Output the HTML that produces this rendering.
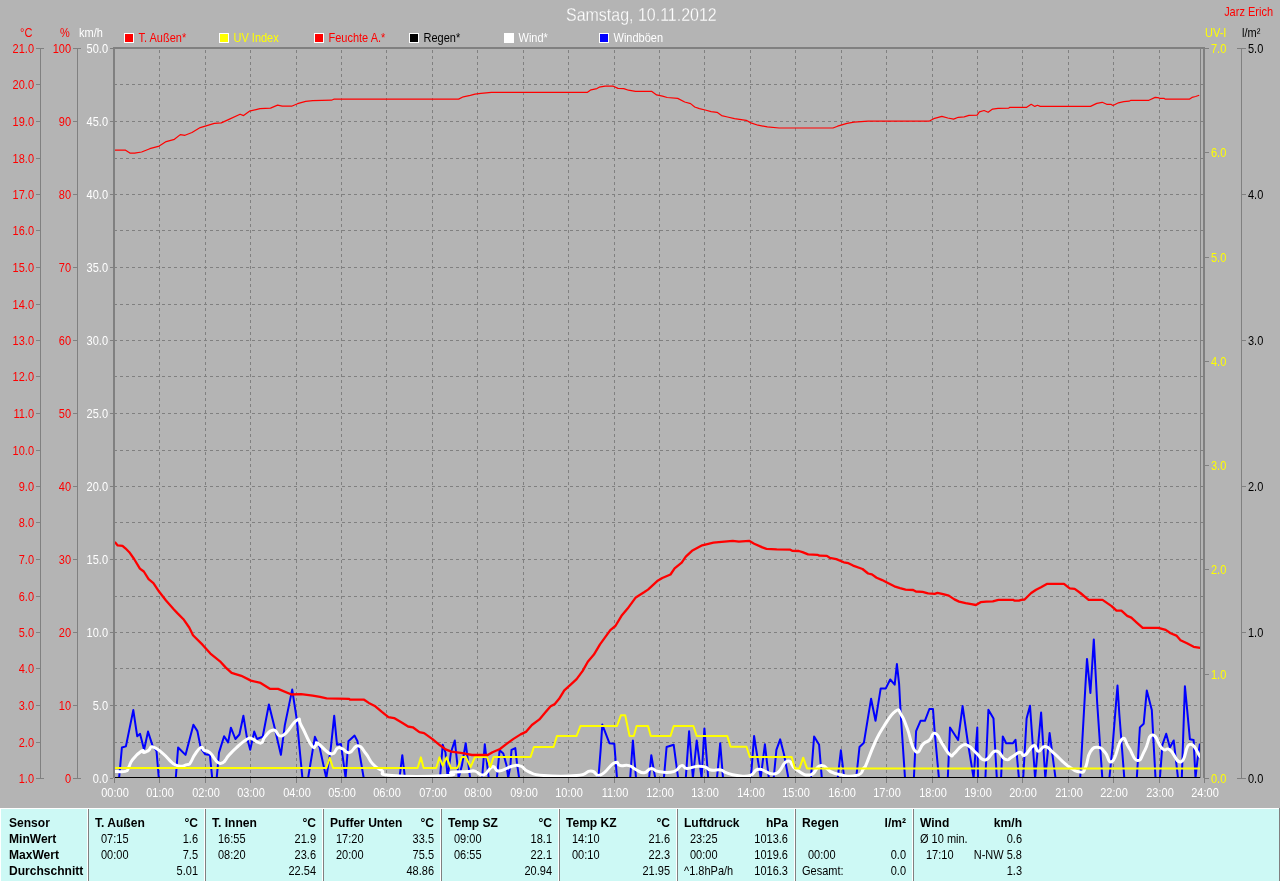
<!DOCTYPE html><html><head><meta charset="utf-8"><title>Samstag, 10.11.2012</title><style>
html,body{margin:0;padding:0;background:#b4b4b4;width:1280px;height:881px;overflow:hidden}
svg{display:block;will-change:transform}text{font-family:"Liberation Sans", sans-serif}
</style></head><body>
<svg width="1280" height="881" viewBox="0 0 1280 881">
<rect x="0" y="0" width="1280" height="881" fill="#b4b4b4"/>
<text stroke="#b4b4b4" stroke-width="0.25" transform="matrix(0.914,0,0,1,566,21)" fill="#ffffff" style="font-size:17.5px">Samstag, 10.11.2012</text>
<text transform="matrix(0.88,0,0,1,1273,16)" fill="#ff0000" style="font-size:12.5px" text-anchor="end">Jarz Erich</text>
<text transform="matrix(0.88,0,0,1,20,37)" fill="#ff0000" style="font-size:12.5px">°C</text>
<text transform="matrix(0.88,0,0,1,60,37)" fill="#ff0000" style="font-size:12.5px">%</text>
<text transform="matrix(0.88,0,0,1,79,37)" fill="#ffffff" style="font-size:12.5px">km/h</text>
<text transform="matrix(0.88,0,0,1,1205,37)" fill="#ffff00" style="font-size:12.5px">UV-I</text>
<text transform="matrix(0.88,0,0,1,1242,37)" fill="#000000" style="font-size:12.5px">l/m²</text>
<rect x="124" y="33" width="10" height="10" fill="#ffffff"/>
<rect x="125" y="34" width="8" height="8" fill="#ff0000"/>
<text transform="matrix(0.88,0,0,1,138.5,42)" fill="#ff0000" style="font-size:12.5px">T. Außen*</text>
<rect x="219" y="33" width="10" height="10" fill="#ffffff"/>
<rect x="220" y="34" width="8" height="8" fill="#ffff00"/>
<text transform="matrix(0.88,0,0,1,233.5,42)" fill="#ffff00" style="font-size:12.5px">UV Index</text>
<rect x="314" y="33" width="10" height="10" fill="#ffffff"/>
<rect x="315" y="34" width="8" height="8" fill="#ff0000"/>
<text transform="matrix(0.88,0,0,1,328.5,42)" fill="#ff0000" style="font-size:12.5px">Feuchte A.*</text>
<rect x="409" y="33" width="10" height="10" fill="#ffffff"/>
<rect x="410" y="34" width="8" height="8" fill="#000000"/>
<text transform="matrix(0.88,0,0,1,423.5,42)" fill="#000000" style="font-size:12.5px">Regen*</text>
<rect x="504" y="33" width="10" height="10" fill="#ffffff"/>
<rect x="505" y="34" width="8" height="8" fill="#ffffff"/>
<text transform="matrix(0.88,0,0,1,518.5,42)" fill="#ffffff" style="font-size:12.5px">Wind*</text>
<rect x="599" y="33" width="10" height="10" fill="#ffffff"/>
<rect x="600" y="34" width="8" height="8" fill="#0000ff"/>
<text transform="matrix(0.88,0,0,1,613.5,42)" fill="#ffffff" style="font-size:12.5px">Windböen</text>
<path d="M114,84.5H1203M114,121.5H1203M114,158.5H1203M114,194.5H1203M114,230.5H1203M114,267.5H1203M114,304.5H1203M114,340.5H1203M114,376.5H1203M114,413.5H1203M114,450.5H1203M114,486.5H1203M114,522.5H1203M114,559.5H1203M114,596.5H1203M114,632.5H1203M114,668.5H1203M114,705.5H1203M114,742.5H1203" stroke="#808080" stroke-width="1" stroke-dasharray="3 3" fill="none" shape-rendering="crispEdges"/>
<path d="M159.5,50V778M205.5,50V778M250.5,50V778M296.5,50V778M341.5,50V778M386.5,50V778M432.5,50V778M477.5,50V778M523.5,50V778M568.5,50V778M614.5,50V778M659.5,50V778M704.5,50V778M750.5,50V778M795.5,50V778M841.5,50V778M886.5,50V778M932.5,50V778M977.5,50V778M1022.5,50V778M1068.5,50V778M1113.5,50V778M1159.5,50V778" stroke="#808080" stroke-width="1" stroke-dasharray="3 3" fill="none" shape-rendering="crispEdges"/>
<rect x="40" y="48" width="1" height="731" fill="#808080"/><rect x="77" y="48" width="1" height="731" fill="#808080"/><rect x="36" y="48" width="4" height="1" fill="#808080"/><rect x="73" y="48" width="4" height="1" fill="#808080"/><rect x="110" y="48" width="3" height="1" fill="#808080"/><rect x="36" y="84" width="4" height="1" fill="#808080"/><rect x="36" y="121" width="4" height="1" fill="#808080"/><rect x="73" y="121" width="4" height="1" fill="#808080"/><rect x="110" y="121" width="3" height="1" fill="#808080"/><rect x="36" y="158" width="4" height="1" fill="#808080"/><rect x="36" y="194" width="4" height="1" fill="#808080"/><rect x="73" y="194" width="4" height="1" fill="#808080"/><rect x="110" y="194" width="3" height="1" fill="#808080"/><rect x="36" y="230" width="4" height="1" fill="#808080"/><rect x="36" y="267" width="4" height="1" fill="#808080"/><rect x="73" y="267" width="4" height="1" fill="#808080"/><rect x="110" y="267" width="3" height="1" fill="#808080"/><rect x="36" y="304" width="4" height="1" fill="#808080"/><rect x="36" y="340" width="4" height="1" fill="#808080"/><rect x="73" y="340" width="4" height="1" fill="#808080"/><rect x="110" y="340" width="3" height="1" fill="#808080"/><rect x="36" y="376" width="4" height="1" fill="#808080"/><rect x="36" y="413" width="4" height="1" fill="#808080"/><rect x="73" y="413" width="4" height="1" fill="#808080"/><rect x="110" y="413" width="3" height="1" fill="#808080"/><rect x="36" y="450" width="4" height="1" fill="#808080"/><rect x="36" y="486" width="4" height="1" fill="#808080"/><rect x="73" y="486" width="4" height="1" fill="#808080"/><rect x="110" y="486" width="3" height="1" fill="#808080"/><rect x="36" y="522" width="4" height="1" fill="#808080"/><rect x="36" y="559" width="4" height="1" fill="#808080"/><rect x="73" y="559" width="4" height="1" fill="#808080"/><rect x="110" y="559" width="3" height="1" fill="#808080"/><rect x="36" y="596" width="4" height="1" fill="#808080"/><rect x="36" y="632" width="4" height="1" fill="#808080"/><rect x="73" y="632" width="4" height="1" fill="#808080"/><rect x="110" y="632" width="3" height="1" fill="#808080"/><rect x="36" y="668" width="4" height="1" fill="#808080"/><rect x="36" y="705" width="4" height="1" fill="#808080"/><rect x="73" y="705" width="4" height="1" fill="#808080"/><rect x="110" y="705" width="3" height="1" fill="#808080"/><rect x="36" y="742" width="4" height="1" fill="#808080"/><rect x="36" y="778" width="4" height="1" fill="#808080"/><rect x="73" y="778" width="4" height="1" fill="#808080"/><rect x="110" y="778" width="3" height="1" fill="#808080"/><rect x="36" y="48" width="8" height="1" fill="#808080"/><rect x="73" y="48" width="8" height="1" fill="#808080"/><rect x="36" y="778" width="8" height="1" fill="#808080"/><rect x="73" y="778" width="8" height="1" fill="#808080"/>
<text transform="matrix(0.88,0,0,1,34,53)" fill="#ff0000" style="font-size:12.5px" text-anchor="end">21.0</text>
<text transform="matrix(0.88,0,0,1,71,53)" fill="#ff0000" style="font-size:12.5px" text-anchor="end">100</text>
<text transform="matrix(0.88,0,0,1,108,53)" fill="#ffffff" style="font-size:12.5px" text-anchor="end">50.0</text>
<text transform="matrix(0.88,0,0,1,34,89)" fill="#ff0000" style="font-size:12.5px" text-anchor="end">20.0</text>
<text transform="matrix(0.88,0,0,1,34,126)" fill="#ff0000" style="font-size:12.5px" text-anchor="end">19.0</text>
<text transform="matrix(0.88,0,0,1,71,126)" fill="#ff0000" style="font-size:12.5px" text-anchor="end">90</text>
<text transform="matrix(0.88,0,0,1,108,126)" fill="#ffffff" style="font-size:12.5px" text-anchor="end">45.0</text>
<text transform="matrix(0.88,0,0,1,34,163)" fill="#ff0000" style="font-size:12.5px" text-anchor="end">18.0</text>
<text transform="matrix(0.88,0,0,1,34,199)" fill="#ff0000" style="font-size:12.5px" text-anchor="end">17.0</text>
<text transform="matrix(0.88,0,0,1,71,199)" fill="#ff0000" style="font-size:12.5px" text-anchor="end">80</text>
<text transform="matrix(0.88,0,0,1,108,199)" fill="#ffffff" style="font-size:12.5px" text-anchor="end">40.0</text>
<text transform="matrix(0.88,0,0,1,34,235)" fill="#ff0000" style="font-size:12.5px" text-anchor="end">16.0</text>
<text transform="matrix(0.88,0,0,1,34,272)" fill="#ff0000" style="font-size:12.5px" text-anchor="end">15.0</text>
<text transform="matrix(0.88,0,0,1,71,272)" fill="#ff0000" style="font-size:12.5px" text-anchor="end">70</text>
<text transform="matrix(0.88,0,0,1,108,272)" fill="#ffffff" style="font-size:12.5px" text-anchor="end">35.0</text>
<text transform="matrix(0.88,0,0,1,34,309)" fill="#ff0000" style="font-size:12.5px" text-anchor="end">14.0</text>
<text transform="matrix(0.88,0,0,1,34,345)" fill="#ff0000" style="font-size:12.5px" text-anchor="end">13.0</text>
<text transform="matrix(0.88,0,0,1,71,345)" fill="#ff0000" style="font-size:12.5px" text-anchor="end">60</text>
<text transform="matrix(0.88,0,0,1,108,345)" fill="#ffffff" style="font-size:12.5px" text-anchor="end">30.0</text>
<text transform="matrix(0.88,0,0,1,34,381)" fill="#ff0000" style="font-size:12.5px" text-anchor="end">12.0</text>
<text transform="matrix(0.88,0,0,1,34,418)" fill="#ff0000" style="font-size:12.5px" text-anchor="end">11.0</text>
<text transform="matrix(0.88,0,0,1,71,418)" fill="#ff0000" style="font-size:12.5px" text-anchor="end">50</text>
<text transform="matrix(0.88,0,0,1,108,418)" fill="#ffffff" style="font-size:12.5px" text-anchor="end">25.0</text>
<text transform="matrix(0.88,0,0,1,34,455)" fill="#ff0000" style="font-size:12.5px" text-anchor="end">10.0</text>
<text transform="matrix(0.88,0,0,1,34,491)" fill="#ff0000" style="font-size:12.5px" text-anchor="end">9.0</text>
<text transform="matrix(0.88,0,0,1,71,491)" fill="#ff0000" style="font-size:12.5px" text-anchor="end">40</text>
<text transform="matrix(0.88,0,0,1,108,491)" fill="#ffffff" style="font-size:12.5px" text-anchor="end">20.0</text>
<text transform="matrix(0.88,0,0,1,34,527)" fill="#ff0000" style="font-size:12.5px" text-anchor="end">8.0</text>
<text transform="matrix(0.88,0,0,1,34,564)" fill="#ff0000" style="font-size:12.5px" text-anchor="end">7.0</text>
<text transform="matrix(0.88,0,0,1,71,564)" fill="#ff0000" style="font-size:12.5px" text-anchor="end">30</text>
<text transform="matrix(0.88,0,0,1,108,564)" fill="#ffffff" style="font-size:12.5px" text-anchor="end">15.0</text>
<text transform="matrix(0.88,0,0,1,34,601)" fill="#ff0000" style="font-size:12.5px" text-anchor="end">6.0</text>
<text transform="matrix(0.88,0,0,1,34,637)" fill="#ff0000" style="font-size:12.5px" text-anchor="end">5.0</text>
<text transform="matrix(0.88,0,0,1,71,637)" fill="#ff0000" style="font-size:12.5px" text-anchor="end">20</text>
<text transform="matrix(0.88,0,0,1,108,637)" fill="#ffffff" style="font-size:12.5px" text-anchor="end">10.0</text>
<text transform="matrix(0.88,0,0,1,34,673)" fill="#ff0000" style="font-size:12.5px" text-anchor="end">4.0</text>
<text transform="matrix(0.88,0,0,1,34,710)" fill="#ff0000" style="font-size:12.5px" text-anchor="end">3.0</text>
<text transform="matrix(0.88,0,0,1,71,710)" fill="#ff0000" style="font-size:12.5px" text-anchor="end">10</text>
<text transform="matrix(0.88,0,0,1,108,710)" fill="#ffffff" style="font-size:12.5px" text-anchor="end">5.0</text>
<text transform="matrix(0.88,0,0,1,34,747)" fill="#ff0000" style="font-size:12.5px" text-anchor="end">2.0</text>
<text transform="matrix(0.88,0,0,1,34,783)" fill="#ff0000" style="font-size:12.5px" text-anchor="end">1.0</text>
<text transform="matrix(0.88,0,0,1,71,783)" fill="#ff0000" style="font-size:12.5px" text-anchor="end">0</text>
<text transform="matrix(0.88,0,0,1,108,783)" fill="#ffffff" style="font-size:12.5px" text-anchor="end">0.0</text>
<rect x="1241" y="48" width="1" height="731" fill="#808080"/>
<rect x="1205" y="48" width="4" height="1" fill="#808080"/>
<text transform="matrix(0.88,0,0,1,1211,53)" fill="#ffff00" style="font-size:12.5px">7.0</text>
<rect x="1205" y="152" width="4" height="1" fill="#808080"/>
<text transform="matrix(0.88,0,0,1,1211,157)" fill="#ffff00" style="font-size:12.5px">6.0</text>
<rect x="1205" y="257" width="4" height="1" fill="#808080"/>
<text transform="matrix(0.88,0,0,1,1211,262)" fill="#ffff00" style="font-size:12.5px">5.0</text>
<rect x="1205" y="361" width="4" height="1" fill="#808080"/>
<text transform="matrix(0.88,0,0,1,1211,366)" fill="#ffff00" style="font-size:12.5px">4.0</text>
<rect x="1205" y="465" width="4" height="1" fill="#808080"/>
<text transform="matrix(0.88,0,0,1,1211,470)" fill="#ffff00" style="font-size:12.5px">3.0</text>
<rect x="1205" y="569" width="4" height="1" fill="#808080"/>
<text transform="matrix(0.88,0,0,1,1211,574)" fill="#ffff00" style="font-size:12.5px">2.0</text>
<rect x="1205" y="674" width="4" height="1" fill="#808080"/>
<text transform="matrix(0.88,0,0,1,1211,679)" fill="#ffff00" style="font-size:12.5px">1.0</text>
<rect x="1205" y="778" width="4" height="1" fill="#808080"/>
<text transform="matrix(0.88,0,0,1,1211,783)" fill="#ffff00" style="font-size:12.5px">0.0</text>
<rect x="1242" y="48" width="4" height="1" fill="#808080"/>
<text transform="matrix(0.88,0,0,1,1248,53)" fill="#000000" style="font-size:12.5px">5.0</text>
<rect x="1242" y="194" width="4" height="1" fill="#808080"/>
<text transform="matrix(0.88,0,0,1,1248,199)" fill="#000000" style="font-size:12.5px">4.0</text>
<rect x="1242" y="340" width="4" height="1" fill="#808080"/>
<text transform="matrix(0.88,0,0,1,1248,345)" fill="#000000" style="font-size:12.5px">3.0</text>
<rect x="1242" y="486" width="4" height="1" fill="#808080"/>
<text transform="matrix(0.88,0,0,1,1248,491)" fill="#000000" style="font-size:12.5px">2.0</text>
<rect x="1242" y="632" width="4" height="1" fill="#808080"/>
<text transform="matrix(0.88,0,0,1,1248,637)" fill="#000000" style="font-size:12.5px">1.0</text>
<rect x="1242" y="778" width="4" height="1" fill="#808080"/>
<text transform="matrix(0.88,0,0,1,1248,783)" fill="#000000" style="font-size:12.5px">0.0</text>
<rect x="1237" y="48" width="9" height="1" fill="#808080"/>
<rect x="1237" y="778" width="8" height="1" fill="#808080"/>
<rect x="114" y="778" width="1" height="5" fill="#808080"/>
<text transform="matrix(0.88,0,0,1,115,797)" fill="#ffffff" style="font-size:12.5px" text-anchor="middle">00:00</text>
<rect x="159" y="778" width="1" height="5" fill="#808080"/>
<text transform="matrix(0.88,0,0,1,160,797)" fill="#ffffff" style="font-size:12.5px" text-anchor="middle">01:00</text>
<rect x="205" y="778" width="1" height="5" fill="#808080"/>
<text transform="matrix(0.88,0,0,1,206,797)" fill="#ffffff" style="font-size:12.5px" text-anchor="middle">02:00</text>
<rect x="250" y="778" width="1" height="5" fill="#808080"/>
<text transform="matrix(0.88,0,0,1,251,797)" fill="#ffffff" style="font-size:12.5px" text-anchor="middle">03:00</text>
<rect x="296" y="778" width="1" height="5" fill="#808080"/>
<text transform="matrix(0.88,0,0,1,297,797)" fill="#ffffff" style="font-size:12.5px" text-anchor="middle">04:00</text>
<rect x="341" y="778" width="1" height="5" fill="#808080"/>
<text transform="matrix(0.88,0,0,1,342,797)" fill="#ffffff" style="font-size:12.5px" text-anchor="middle">05:00</text>
<rect x="386" y="778" width="1" height="5" fill="#808080"/>
<text transform="matrix(0.88,0,0,1,387,797)" fill="#ffffff" style="font-size:12.5px" text-anchor="middle">06:00</text>
<rect x="432" y="778" width="1" height="5" fill="#808080"/>
<text transform="matrix(0.88,0,0,1,433,797)" fill="#ffffff" style="font-size:12.5px" text-anchor="middle">07:00</text>
<rect x="477" y="778" width="1" height="5" fill="#808080"/>
<text transform="matrix(0.88,0,0,1,478,797)" fill="#ffffff" style="font-size:12.5px" text-anchor="middle">08:00</text>
<rect x="523" y="778" width="1" height="5" fill="#808080"/>
<text transform="matrix(0.88,0,0,1,524,797)" fill="#ffffff" style="font-size:12.5px" text-anchor="middle">09:00</text>
<rect x="568" y="778" width="1" height="5" fill="#808080"/>
<text transform="matrix(0.88,0,0,1,569,797)" fill="#ffffff" style="font-size:12.5px" text-anchor="middle">10:00</text>
<rect x="614" y="778" width="1" height="5" fill="#808080"/>
<text transform="matrix(0.88,0,0,1,615,797)" fill="#ffffff" style="font-size:12.5px" text-anchor="middle">11:00</text>
<rect x="659" y="778" width="1" height="5" fill="#808080"/>
<text transform="matrix(0.88,0,0,1,660,797)" fill="#ffffff" style="font-size:12.5px" text-anchor="middle">12:00</text>
<rect x="704" y="778" width="1" height="5" fill="#808080"/>
<text transform="matrix(0.88,0,0,1,705,797)" fill="#ffffff" style="font-size:12.5px" text-anchor="middle">13:00</text>
<rect x="750" y="778" width="1" height="5" fill="#808080"/>
<text transform="matrix(0.88,0,0,1,751,797)" fill="#ffffff" style="font-size:12.5px" text-anchor="middle">14:00</text>
<rect x="795" y="778" width="1" height="5" fill="#808080"/>
<text transform="matrix(0.88,0,0,1,796,797)" fill="#ffffff" style="font-size:12.5px" text-anchor="middle">15:00</text>
<rect x="841" y="778" width="1" height="5" fill="#808080"/>
<text transform="matrix(0.88,0,0,1,842,797)" fill="#ffffff" style="font-size:12.5px" text-anchor="middle">16:00</text>
<rect x="886" y="778" width="1" height="5" fill="#808080"/>
<text transform="matrix(0.88,0,0,1,887,797)" fill="#ffffff" style="font-size:12.5px" text-anchor="middle">17:00</text>
<rect x="932" y="778" width="1" height="5" fill="#808080"/>
<text transform="matrix(0.88,0,0,1,933,797)" fill="#ffffff" style="font-size:12.5px" text-anchor="middle">18:00</text>
<rect x="977" y="778" width="1" height="5" fill="#808080"/>
<text transform="matrix(0.88,0,0,1,978,797)" fill="#ffffff" style="font-size:12.5px" text-anchor="middle">19:00</text>
<rect x="1022" y="778" width="1" height="5" fill="#808080"/>
<text transform="matrix(0.88,0,0,1,1023,797)" fill="#ffffff" style="font-size:12.5px" text-anchor="middle">20:00</text>
<rect x="1068" y="778" width="1" height="5" fill="#808080"/>
<text transform="matrix(0.88,0,0,1,1069,797)" fill="#ffffff" style="font-size:12.5px" text-anchor="middle">21:00</text>
<rect x="1113" y="778" width="1" height="5" fill="#808080"/>
<text transform="matrix(0.88,0,0,1,1114,797)" fill="#ffffff" style="font-size:12.5px" text-anchor="middle">22:00</text>
<rect x="1159" y="778" width="1" height="5" fill="#808080"/>
<text transform="matrix(0.88,0,0,1,1160,797)" fill="#ffffff" style="font-size:12.5px" text-anchor="middle">23:00</text>
<rect x="1204" y="778" width="1" height="5" fill="#808080"/>
<text transform="matrix(0.88,0,0,1,1205,797)" fill="#ffffff" style="font-size:12.5px" text-anchor="middle">24:00</text>
<defs><clipPath id="pc"><rect x="115" y="49" width="1086" height="728"/></clipPath></defs>
<g fill="none" stroke-linejoin="round" stroke-linecap="butt" clip-path="url(#pc)">
<polyline points="114,778 119.1,778 121.9,747.5 125.9,746.4 133.3,710.1 137.2,736.2 140.1,733.9 144.1,749.8 148,731.6 152.6,745.8 156.5,750.9 158.8,778 175.8,778 178.1,747.5 185.5,754.9 193.4,724.8 197.4,731.1 200.8,748.1 205.3,754.3 209.9,754.9 212.2,778 216.7,778 219,752.6 224.1,736.2 228.1,742.4 230.9,727.7 235.4,739 239.4,734.5 243.4,715.8 246.8,736.8 250.2,749.8 254.2,731.6 257,739 262.7,736.8 268.9,704.4 274.1,725.4 280.9,754.9 284.8,725.4 292.2,689.6 296.8,719.7 302.4,778 308.1,778 314.9,736.8 319.5,747 326.3,778 330.8,748.1 334.2,715.8 337,744.7 341,744.1 345.6,778 348.4,741.3 354.6,735.6 357.5,741.3 363.7,778 399.5,778 402.3,755.2 405,778 440,778 442.7,744.8 445.5,752.5 447.7,778 450.9,752.5 454.8,740.5 457.5,765.6 458.6,778 461.9,765.6 465.7,743.2 470.1,778 482.1,778 484.8,744.3 488.7,778 496.9,778 499.6,750.3 503.3,753.6 506.6,765.6 508.2,778 510.4,765.6 511.5,749.8 515.3,748.1 517,763.4 519.1,778 598.4,778 600.6,750.3 602.3,724.6 609.4,743.2 614.3,743.8 617,778 630.2,778 632.9,740.5 636,778 649.1,778 651.3,755.2 655.2,778 663.9,778 666.6,747 673.7,744.8 678.1,778 685.8,778 689.1,731.2 692.9,778 696.7,740.5 701.6,778 704.4,728.4 708.2,778 717,778 720.2,743.2 723,778 750.9,778 754.1,736.1 760.7,778 764.9,744.3 768.8,778 773.7,778 776.4,749.8 780.2,739.4 784.1,754.7 788.4,778 810.9,778 814.1,736.6 819.1,744.8 821.8,778 837.7,778 840.9,750.3 844.2,778 856.2,778 859.5,747 863.9,742.7 871.1,698.7 875.5,720.8 880.7,688.4 885.8,688.4 890.2,679.5 894.7,684.7 896.9,664 899.1,683.9 900.6,712 905,778 913.9,778 916.1,731.2 920.5,720.8 924.9,720.8 929.4,709 933,709 934.5,729.7 938.9,778 947.8,778 950,727.5 958.1,740 962.6,706.1 967.7,741.5 973.6,778 977.3,727.5 978,778 985.4,778 988.4,709.8 993.5,718.6 996.8,778 1001.1,778 1002.8,736.4 1006.2,743.2 1013,743.2 1015.5,739.8 1018.9,778 1023.2,778 1026.6,718.5 1030,705.7 1035.1,778 1041.1,712.6 1045.3,778 1049.6,733 1055.5,778 1080.2,778 1085.3,687.9 1087,658.9 1090.4,693 1093.8,639.4 1097.2,703.2 1102.3,778 1109.4,778 1112.5,747.4 1116.2,701.2 1117.5,685.6 1119.3,713.7 1124.3,778 1136.8,778 1139.9,727.4 1143.7,723.7 1146.8,690.6 1151.8,710 1155.5,778 1159.9,778 1162.4,744.9 1166.2,733.7 1169.9,747.4 1173.7,740.5 1178,778 1181.8,778 1184.9,686.2 1187.4,712.4 1189.9,739.3 1193.6,739.9 1195.5,778 1197.4,760.5 1199.9,743.7" stroke="#0000ff" stroke-width="2"/>
<path d="M114.5,771.4C117.38,771.4 121.51,772.47 125.3,771.4C129.09,770.33 126.73,770.57 128.7,767.4C130.67,764.23 129.21,763.9 132.7,759.5C136.19,755.1 138.79,752.74 141.8,750.9C144.81,749.06 142.19,752.73 144,752.6C145.81,752.47 146.17,751.89 148.6,750.4C151.03,748.91 149.18,746.09 153.1,747C157.02,747.91 157.25,748.97 163.3,753.8C169.35,758.63 169.43,762.22 175.8,765.1C182.17,767.98 183.25,765.35 187.2,764.6C191.15,763.85 188.63,764.89 190.6,762.3C192.57,759.71 191.88,758.85 194.6,754.9C197.32,750.95 198.24,748.7 200.8,747.5C203.36,746.3 201.77,749.04 204.2,750.4C206.63,751.76 205.66,749.13 209.9,752.6C214.14,756.07 214.95,762.79 220.1,763.4C225.25,764.01 224.96,758.98 229.2,754.9C233.44,750.82 231.17,752.34 236,748.1C240.83,743.86 242.9,741.43 247.3,739C251.7,736.57 249.59,738.09 252.5,739C255.41,739.91 255.64,741.49 258.2,742.4C260.76,743.31 260.29,743.89 262.1,742.4C263.91,740.91 261.96,740.11 265,736.8C268.04,733.49 268.81,730.32 273.5,730C278.19,729.68 276.39,738.19 282.6,735.6C288.81,733.01 291.81,723.02 296.8,720.3C301.79,717.58 297.38,718.73 301.3,725.4C305.22,732.07 307.58,739.99 311.5,745.3C315.42,750.61 314.19,745.75 316,745.3C317.81,744.85 314.35,741.33 318.3,743.6C322.25,745.87 325.65,752.6 330.8,753.8C335.95,755 334.56,749.46 337.6,748.1C340.64,746.74 339.03,747.5 342.2,748.7C345.37,749.9 345.29,753.37 349.5,752.6C353.71,751.83 353.6,745.48 358,745.8C362.4,746.12 362.05,748.95 366,753.8C369.95,758.65 368.67,759.6 372.8,764C376.93,768.4 376.41,767.23 381.5,770.3C386.59,773.37 374.54,774.11 391.9,775.5C409.26,776.89 430.57,776.38 446.6,775.5C462.63,774.62 446.19,773.24 452,772.2C457.81,771.16 462.27,771.89 468.4,771.6C474.53,771.31 470.92,770.22 475,771.1C479.08,771.98 479.03,776.07 483.7,774.9C488.37,773.73 488.39,767.71 492.5,766.7C496.61,765.69 493.9,771.23 499.1,771.1C504.3,770.97 506.21,767.51 512,766.2C517.79,764.89 516.43,764.76 520.8,766.2C525.17,767.64 522.29,769.12 528.4,771.6C534.51,774.08 530.85,774.46 543.7,775.5C556.55,776.54 564.04,776.67 576.6,775.5C589.16,774.33 584.4,771.26 590.8,771.1C597.2,770.94 594.33,777.09 600.6,774.9C606.87,772.71 609.05,765.38 614.3,762.9C619.55,760.42 616.35,764.88 620.3,765.6C624.25,766.32 624.75,764.43 629.1,765.6C633.45,766.77 632.57,768.11 636.6,770C640.63,771.89 640.28,773.13 644.2,772.7C648.12,772.27 647.51,768.69 651.3,768.4C655.09,768.11 652.43,770.75 658.4,771.6C664.37,772.45 667.57,773.2 673.7,771.6C679.83,770 677.88,766.45 681.4,765.6C684.92,764.75 682.53,768.24 686.9,768.4C691.27,768.56 692.84,766.49 697.8,766.2C702.76,765.91 702.01,766.29 705.5,767.3C708.99,768.31 706.82,769.28 710.9,770C714.98,770.72 716.72,769.28 720.8,770C724.88,770.72 721.83,771.23 726.2,772.7C730.57,774.17 730.77,774.75 737.2,775.5C743.63,776.25 744.49,777.15 750.3,775.5C756.11,773.85 752.33,769.75 759,769.3C765.67,768.85 767.75,775.96 775.3,773.8C782.85,771.64 781.75,762.35 787.3,761.2C792.85,760.05 789.97,765.85 796.1,769.5C802.23,773.15 803.61,775.94 810.3,774.9C816.99,773.86 814.77,766.03 821.2,765.6C827.63,765.17 825.07,770.66 834.4,773.3C843.73,775.94 848.33,776.97 856.2,775.5C864.07,774.03 861.31,770.57 863.9,767.8C866.49,765.03 862.99,771.71 865.9,765.1C868.81,758.49 870.08,753.24 874.8,743C879.52,732.76 878.11,735.18 883.6,726.7C889.09,718.22 890.68,714.35 895.4,711.2C900.12,708.05 898.15,710.37 901.3,714.9C904.45,719.43 903.47,718.55 907.2,728.2C910.93,737.85 910.95,746.97 915.3,751.1C919.65,755.23 919.74,746.66 923.5,743.7C927.26,740.74 926.25,742.75 929.4,740C932.55,737.25 931.78,732.23 935.3,733.4C938.82,734.57 938.68,738.69 942.6,744.4C946.52,750.11 946.85,752.43 950,754.8C953.15,757.17 951.25,755.67 954.4,753.3C957.55,750.93 958.04,747.87 961.8,745.9C965.56,743.93 964.55,743.93 968.5,745.9C972.45,747.87 972.09,749.57 976.6,753.3C981.11,757.03 980.28,760.49 985.4,759.9C990.52,759.31 990.49,751.23 995.8,751.1C1001.11,750.97 1000.95,757.88 1005.3,759.4C1009.65,760.92 1008.23,758.72 1012.1,756.8C1015.97,754.88 1016.39,752.65 1019.8,752.2C1023.21,751.75 1021.27,756.83 1024.9,755.1C1028.53,753.37 1029.77,746.74 1033.4,745.7C1037.03,744.66 1035.33,750.96 1038.5,751.2C1041.67,751.44 1040.98,745.88 1045.3,746.6C1049.62,747.32 1048.57,748.67 1054.7,753.9C1060.83,759.13 1061.5,761.35 1068.3,766.2C1075.1,771.05 1075.67,771.65 1080.2,772.1C1084.73,772.55 1082.58,773.34 1085.3,767.9C1088.02,762.46 1086.77,757.17 1090.4,751.7C1094.03,746.23 1095.01,747.21 1098.9,747.4C1102.79,747.59 1101.37,748.75 1105,752.4C1108.63,756.05 1108.02,764.59 1112.5,761.1C1116.98,757.61 1117.48,742.95 1121.8,739.3C1126.12,735.65 1124.54,741.75 1128.7,747.4C1132.86,753.05 1133.05,759.83 1137.4,760.5C1141.75,761.17 1141,756.73 1145,749.9C1149,743.07 1147.76,735.22 1152.4,734.9C1157.04,734.58 1157.73,744.7 1162.4,748.7C1167.07,752.7 1164.91,746.41 1169.9,749.9C1174.89,753.39 1175.77,763.29 1181.1,761.8C1186.43,760.31 1184.73,745.47 1189.9,744.3C1195.07,743.13 1197.67,753.91 1200.5,757.4" stroke="#ffffff" stroke-width="3"/>
<polyline points="114,768 326.3,768 329.7,757.8 333.1,768 417.6,768 420.9,757.4 423.6,768 436.2,768 439.5,757.4 442.7,765.6 446.6,757.4 450.9,768 457.5,768 461.9,757 465.7,757 470.6,767 475,757 487,757 490.3,767 493.6,757 530.6,757 533.9,747 553.6,747 556.9,736.1 576.6,736 580.4,726 617,726 620.9,715.3 625.2,715.3 629.6,736 633.8,736 636.6,726 648,726 650.8,736 670.5,736 673.7,726 693.4,726 696.7,736 727.3,736 730.6,746.8 746.5,746.8 749.8,757 791.7,757 795,768.4 799.4,768.4 803.2,757.7 807,768.4 1200,768.4" stroke="#ffff00" stroke-width="2"/>
<polyline points="114.8,542 117.7,545.4 122.5,545.8 125.4,548.3 129.3,552.2 134.1,559 139.9,568.6 143.8,571.5 148.6,579.2 153.4,583.1 159.2,591.8 166,600.5 173.7,609.2 177.6,613.4 183.4,619.2 189.2,627.5 193,635.2 202.7,644.9 210.4,653.6 220,661.3 225.8,667.6 231.6,672.9 241.3,675.8 250.9,680.6 260.6,682.9 270.2,688.9 278,688.9 291.5,694.5 301.1,694.1 312.7,695.6 320,696.9 326.6,698.4 349.1,698.8 350,699.7 364.1,699.7 368.8,702.9 375.3,706.3 381.9,711.9 388.4,717.1 394.1,718.1 402.5,723.1 408.1,726.5 412.8,727.3 419.4,732.1 424.1,733.1 432.5,739.1 440,745.3 445.6,749.4 451.3,751.6 462.5,753.1 471.9,755 487.8,755 492.5,752.2 500,749 505.6,744.7 513.1,739.1 520.6,734.4 526.3,731.6 531.9,725 539.4,719.4 545,712.8 550.6,706.3 554.4,704.4 559.1,698.8 564.3,690.3 570.4,684.8 576.6,679.1 582.7,670.9 587.8,661.7 593.9,654.6 600,644.4 610.3,630.1 615.4,626 621.5,615.8 627.6,608.6 635.8,597.4 644,592.3 648,589.6 657.2,581.1 662.3,578 670.5,574.5 674.6,568.4 681.7,562.7 685.8,556.6 692,550.8 702.2,545.3 713.4,542.7 721.6,541.8 732.8,540.8 738.9,541.6 749.1,540.8 754.2,543.7 762.4,547.4 766.5,548.8 776.7,549.4 790.3,549.7 792.2,550.8 798.8,551 802.5,552.1 808.1,554.4 817.5,554.8 819.4,555.7 826.9,555.9 829.7,557.8 836.3,559.1 843.8,562.3 848.4,563.2 853.1,565.6 862.5,569 868.1,573.5 871.9,574.4 876.6,577.8 882.2,580.1 886.9,582.5 894.4,586.3 900,588.1 905.6,589.6 913.1,590 915.9,591.5 922.5,591.9 928.1,593.4 934.7,593.8 937.5,592.8 943.1,594.1 948.8,595.6 954.4,599.4 959.1,601.6 965.6,603.1 971.3,604.1 975.9,605 980.6,602.2 986.3,601.6 992.8,601.3 998.4,599.9 1013.1,599.9 1014.8,600.7 1018.9,600.7 1021.3,599.9 1024.6,599.5 1031.2,593 1036.1,589.7 1041,587.2 1046.8,583.9 1064,583.9 1069.7,588.4 1074.7,588.9 1080.4,593 1088.6,599.9 1102.5,599.9 1111.6,606.1 1116.5,610.7 1121.4,610.7 1127.2,615.9 1131.3,617.6 1137,622.8 1142.7,627.8 1158.3,627.8 1165.7,629.9 1170.6,633.2 1176.4,635.6 1180.5,640.2 1187,643.3 1193.6,646.8 1200.2,647.9" stroke="#ff0000" stroke-width="2.3"/>
<polyline points="114.2,150.1 125.2,150.1 129.9,153.1 134.6,153.1 141.6,152 149.8,148.7 159.2,146.1 166.2,141.6 174.4,139.3 180.3,134.6 185,135.3 192,132.5 200.2,127.6 206.1,125.9 214.3,123.4 221.3,122.9 229.5,119.1 240.1,114.2 243.6,115.6 249.4,111.2 260,108.6 270.5,108.1 277.6,105.1 282.3,106.2 291.6,106.2 297.5,103.7 305.7,101.3 312.7,100.6 331.5,100.2 333.8,99.2 458.6,99.1 463.3,96.8 470.3,95.4 475,94.2 480.9,93.3 491.4,92.3 587.5,92.3 591,89.8 596.9,88.6 599.2,87.2 605.1,86.2 613.3,86.2 618,88.4 623.8,88.6 628.5,90.2 635.5,91.4 651.9,91.4 656.6,94.9 662.5,96.1 667.2,97.5 677.7,98.4 684.7,102 690.6,103.6 694.7,107 699.4,108.6 705.2,110 711.1,111.6 717,112.3 721.6,115.6 727.5,117 734.5,118.7 746.2,120.3 750.9,122.9 758,125.2 767.3,126.9 779.1,128 833,128 837.6,126.2 847,123.4 854,122.2 868.1,121.2 929,121.2 933.7,118.7 941.9,116.3 947.8,118 953.6,119.1 958.3,117.3 964.2,116.8 968.9,115.4 977.1,115.2 979.4,111.9 984.1,110.5 988.1,112.3 992.6,109.1 998,108.4 1008.8,108.2 1009.6,107.3 1026.7,107.3 1031.2,104.3 1034.8,106.4 1037.5,105.3 1040.2,106.4 1090.5,106.4 1096.8,103.4 1102.2,102.3 1106.7,104.3 1111.2,104.4 1113,105.5 1118.4,102.8 1123.8,101.6 1129.1,101.2 1130.9,100.3 1148.9,100.3 1155.2,97.4 1157.9,97.6 1159.7,98.3 1164.2,98.3 1165.1,99.2 1189.3,99.2 1192,97.4 1195.6,96.5 1199.2,95.3" stroke="#ff0000" stroke-width="1.2"/>
</g>
<rect x="114" y="777" width="1087" height="1" fill="#000000"/>
<rect x="1200" y="49" width="1" height="729" fill="#808080"/>
<rect x="113" y="47" width="1092" height="2" fill="#808080"/>
<rect x="113" y="47" width="2" height="731" fill="#808080"/>
<rect x="1203" y="47" width="2" height="731" fill="#808080"/>
<rect x="0" y="808" width="1280" height="73" fill="#ffffff"/>
<rect x="1" y="809" width="1279" height="72" fill="#cdf9f5"/>
<rect x="87" y="809" width="1" height="72" fill="#ffffff"/>
<rect x="88" y="809" width="1" height="72" fill="#808080"/>
<rect x="204" y="809" width="1" height="72" fill="#ffffff"/>
<rect x="205" y="809" width="1" height="72" fill="#808080"/>
<rect x="322" y="809" width="1" height="72" fill="#ffffff"/>
<rect x="323" y="809" width="1" height="72" fill="#808080"/>
<rect x="440" y="809" width="1" height="72" fill="#ffffff"/>
<rect x="441" y="809" width="1" height="72" fill="#808080"/>
<rect x="558" y="809" width="1" height="72" fill="#ffffff"/>
<rect x="559" y="809" width="1" height="72" fill="#808080"/>
<rect x="676" y="809" width="1" height="72" fill="#ffffff"/>
<rect x="677" y="809" width="1" height="72" fill="#808080"/>
<rect x="794" y="809" width="1" height="72" fill="#ffffff"/>
<rect x="795" y="809" width="1" height="72" fill="#808080"/>
<rect x="912" y="809" width="1" height="72" fill="#ffffff"/>
<rect x="913" y="809" width="1" height="72" fill="#808080"/>
<rect x="1279" y="808" width="1" height="73" fill="#808080"/>
<text transform="matrix(0.965,0,0,1,9,827)" fill="#000" style="font-size:12.5px;font-weight:bold">Sensor</text>
<text transform="matrix(0.965,0,0,1,9,843)" fill="#000" style="font-size:12.5px;font-weight:bold">MinWert</text>
<text transform="matrix(0.965,0,0,1,9,859)" fill="#000" style="font-size:12.5px;font-weight:bold">MaxWert</text>
<text transform="matrix(0.965,0,0,1,9,875)" fill="#000" style="font-size:12.5px;font-weight:bold">Durchschnitt</text>
<text transform="matrix(0.965,0,0,1,95,827)" fill="#000" style="font-size:12.5px;font-weight:bold">T. Außen</text>
<text transform="matrix(0.965,0,0,1,198,827)" fill="#000" style="font-size:12.5px;font-weight:bold" text-anchor="end">°C</text>
<text transform="matrix(0.88,0,0,1,101,843)" fill="#000" style="font-size:12.5px">07:15</text>
<text transform="matrix(0.88,0,0,1,198,843)" fill="#000" style="font-size:12.5px" text-anchor="end">1.6</text>
<text transform="matrix(0.88,0,0,1,101,859)" fill="#000" style="font-size:12.5px">00:00</text>
<text transform="matrix(0.88,0,0,1,198,859)" fill="#000" style="font-size:12.5px" text-anchor="end">7.5</text>
<text transform="matrix(0.88,0,0,1,198,875)" fill="#000" style="font-size:12.5px" text-anchor="end">5.01</text>
<text transform="matrix(0.965,0,0,1,212,827)" fill="#000" style="font-size:12.5px;font-weight:bold">T. Innen</text>
<text transform="matrix(0.965,0,0,1,316,827)" fill="#000" style="font-size:12.5px;font-weight:bold" text-anchor="end">°C</text>
<text transform="matrix(0.88,0,0,1,218,843)" fill="#000" style="font-size:12.5px">16:55</text>
<text transform="matrix(0.88,0,0,1,316,843)" fill="#000" style="font-size:12.5px" text-anchor="end">21.9</text>
<text transform="matrix(0.88,0,0,1,218,859)" fill="#000" style="font-size:12.5px">08:20</text>
<text transform="matrix(0.88,0,0,1,316,859)" fill="#000" style="font-size:12.5px" text-anchor="end">23.6</text>
<text transform="matrix(0.88,0,0,1,316,875)" fill="#000" style="font-size:12.5px" text-anchor="end">22.54</text>
<text transform="matrix(0.965,0,0,1,330,827)" fill="#000" style="font-size:12.5px;font-weight:bold">Puffer Unten</text>
<text transform="matrix(0.965,0,0,1,434,827)" fill="#000" style="font-size:12.5px;font-weight:bold" text-anchor="end">°C</text>
<text transform="matrix(0.88,0,0,1,336,843)" fill="#000" style="font-size:12.5px">17:20</text>
<text transform="matrix(0.88,0,0,1,434,843)" fill="#000" style="font-size:12.5px" text-anchor="end">33.5</text>
<text transform="matrix(0.88,0,0,1,336,859)" fill="#000" style="font-size:12.5px">20:00</text>
<text transform="matrix(0.88,0,0,1,434,859)" fill="#000" style="font-size:12.5px" text-anchor="end">75.5</text>
<text transform="matrix(0.88,0,0,1,434,875)" fill="#000" style="font-size:12.5px" text-anchor="end">48.86</text>
<text transform="matrix(0.965,0,0,1,448,827)" fill="#000" style="font-size:12.5px;font-weight:bold">Temp SZ</text>
<text transform="matrix(0.965,0,0,1,552,827)" fill="#000" style="font-size:12.5px;font-weight:bold" text-anchor="end">°C</text>
<text transform="matrix(0.88,0,0,1,454,843)" fill="#000" style="font-size:12.5px">09:00</text>
<text transform="matrix(0.88,0,0,1,552,843)" fill="#000" style="font-size:12.5px" text-anchor="end">18.1</text>
<text transform="matrix(0.88,0,0,1,454,859)" fill="#000" style="font-size:12.5px">06:55</text>
<text transform="matrix(0.88,0,0,1,552,859)" fill="#000" style="font-size:12.5px" text-anchor="end">22.1</text>
<text transform="matrix(0.88,0,0,1,552,875)" fill="#000" style="font-size:12.5px" text-anchor="end">20.94</text>
<text transform="matrix(0.965,0,0,1,566,827)" fill="#000" style="font-size:12.5px;font-weight:bold">Temp KZ</text>
<text transform="matrix(0.965,0,0,1,670,827)" fill="#000" style="font-size:12.5px;font-weight:bold" text-anchor="end">°C</text>
<text transform="matrix(0.88,0,0,1,572,843)" fill="#000" style="font-size:12.5px">14:10</text>
<text transform="matrix(0.88,0,0,1,670,843)" fill="#000" style="font-size:12.5px" text-anchor="end">21.6</text>
<text transform="matrix(0.88,0,0,1,572,859)" fill="#000" style="font-size:12.5px">00:10</text>
<text transform="matrix(0.88,0,0,1,670,859)" fill="#000" style="font-size:12.5px" text-anchor="end">22.3</text>
<text transform="matrix(0.88,0,0,1,670,875)" fill="#000" style="font-size:12.5px" text-anchor="end">21.95</text>
<text transform="matrix(0.965,0,0,1,684,827)" fill="#000" style="font-size:12.5px;font-weight:bold">Luftdruck</text>
<text transform="matrix(0.965,0,0,1,788,827)" fill="#000" style="font-size:12.5px;font-weight:bold" text-anchor="end">hPa</text>
<text transform="matrix(0.88,0,0,1,690,843)" fill="#000" style="font-size:12.5px">23:25</text>
<text transform="matrix(0.88,0,0,1,788,843)" fill="#000" style="font-size:12.5px" text-anchor="end">1013.6</text>
<text transform="matrix(0.88,0,0,1,690,859)" fill="#000" style="font-size:12.5px">00:00</text>
<text transform="matrix(0.88,0,0,1,788,859)" fill="#000" style="font-size:12.5px" text-anchor="end">1019.6</text>
<text transform="matrix(0.88,0,0,1,684,875)" fill="#000" style="font-size:12.5px">^1.8hPa/h</text>
<text transform="matrix(0.88,0,0,1,788,875)" fill="#000" style="font-size:12.5px" text-anchor="end">1016.3</text>
<text transform="matrix(0.965,0,0,1,802,827)" fill="#000" style="font-size:12.5px;font-weight:bold">Regen</text>
<text transform="matrix(0.965,0,0,1,906,827)" fill="#000" style="font-size:12.5px;font-weight:bold" text-anchor="end">l/m²</text>
<text transform="matrix(0.88,0,0,1,808,859)" fill="#000" style="font-size:12.5px">00:00</text>
<text transform="matrix(0.88,0,0,1,906,859)" fill="#000" style="font-size:12.5px" text-anchor="end">0.0</text>
<text transform="matrix(0.88,0,0,1,802,875)" fill="#000" style="font-size:12.5px">Gesamt:</text>
<text transform="matrix(0.88,0,0,1,906,875)" fill="#000" style="font-size:12.5px" text-anchor="end">0.0</text>
<text transform="matrix(0.965,0,0,1,920,827)" fill="#000" style="font-size:12.5px;font-weight:bold">Wind</text>
<text transform="matrix(0.965,0,0,1,1022,827)" fill="#000" style="font-size:12.5px;font-weight:bold" text-anchor="end">km/h</text>
<text transform="matrix(0.88,0,0,1,920,843)" fill="#000" style="font-size:12.5px">Ø 10 min.</text>
<text transform="matrix(0.88,0,0,1,1022,843)" fill="#000" style="font-size:12.5px" text-anchor="end">0.6</text>
<text transform="matrix(0.88,0,0,1,926,859)" fill="#000" style="font-size:12.5px">17:10</text>
<text transform="matrix(0.88,0,0,1,1022,859)" fill="#000" style="font-size:12.5px" text-anchor="end">N-NW 5.8</text>
<text transform="matrix(0.88,0,0,1,1022,875)" fill="#000" style="font-size:12.5px" text-anchor="end">1.3</text>
</svg></body></html>
